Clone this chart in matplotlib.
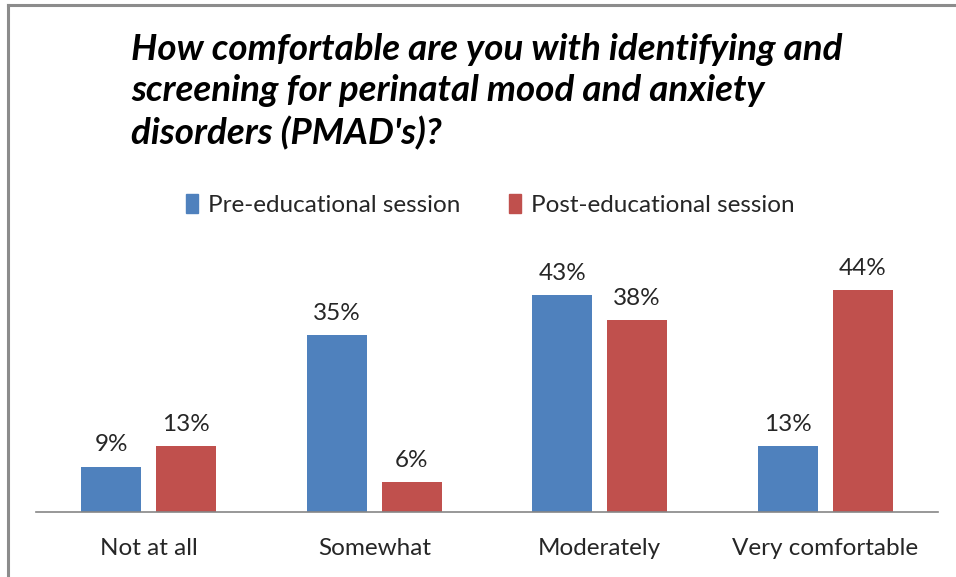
import matplotlib.pyplot as plt
import numpy as np
from matplotlib.lines import Line2D
from matplotlib.patches import Patch

categories = ['Not at all', 'Somewhat', 'Moderately', 'Very comfortable']
pre = [9, 35, 43, 13]
post = [13, 6, 38, 44]
series_names = ['Pre-educational session', 'Post-educational session']
title = "How comfortable are you with identifying and\nscreening for perinatal mood and anxiety\ndisorders (PMAD's)?"

blue = '#4F81BD'
red = '#C0504D'
plt.rcParams['font.family'] = ['Lato', 'DejaVu Sans']

fig = plt.figure(figsize=(9.56, 5.77), dpi=100)
ax = fig.add_axes([0.0377, 0.1127, 0.9435, 0.4376])

x = np.arange(len(categories))
w = 0.266
off = 0.166
b1 = ax.bar(x - off, pre, w, color=blue)
b2 = ax.bar(x + off, post, w, color=red)

for bars, vals in [(b1, pre), (b2, post)]:
    for b, v in zip(bars, vals):
        ax.annotate(f'{v}%', (b.get_x() + b.get_width() / 2, v),
                    xytext=(0, 8), textcoords='offset points',
                    ha='center', va='bottom', fontsize=17.5, color='#262626')

ax.set_xlim(-0.5, 3.5)
ax.set_ylim(0, 50)
ax.set_xticks(x)
ax.set_xticklabels(categories, fontsize=17.5, color='#262626')
ax.tick_params(axis='x', length=0, pad=19)
ax.set_yticks([])
for s in ['top', 'right', 'left']:
    ax.spines[s].set_visible(False)
ax.spines['bottom'].set_color('#868686')
ax.spines['bottom'].set_linewidth(1.2)

fig.text(131 / 956, 1 - 33 / 577, title, ha='left', va='top',
         fontsize=26.5, fontweight='bold', fontstyle='italic',
         linespacing=1.3, color='black')

handles = [Patch(color=blue), Patch(color=red)]
fig.legend(handles, series_names, loc='center', ncol=2,
           bbox_to_anchor=(490 / 956, 1 - 205 / 577), frameon=False,
           fontsize=17.5, handlelength=0.5, handleheight=0.8,
           handletextpad=0.4, columnspacing=2.0, labelcolor='#262626')

# chart frame (top and left edges)
fig.add_artist(Line2D([8 / 956, 1], [1 - 5 / 577, 1 - 5 / 577],
                      color='#8c8c8c', lw=2.2, transform=fig.transFigure))
fig.add_artist(Line2D([8 / 956, 8 / 956], [0, 1 - 5 / 577],
                      color='#8c8c8c', lw=2.2, transform=fig.transFigure))

fig.savefig('out.png', dpi=100)
